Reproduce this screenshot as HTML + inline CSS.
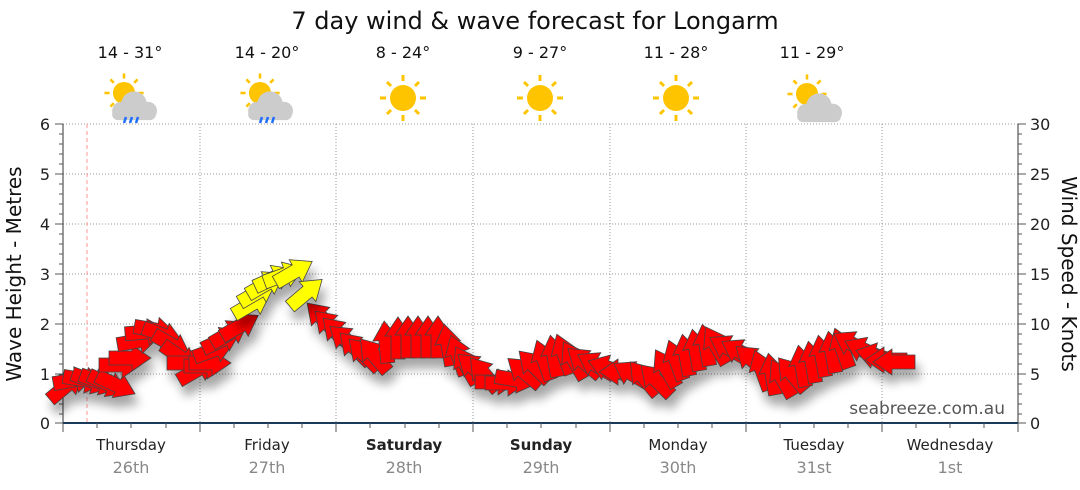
<!DOCTYPE html>
<html><head><meta charset="utf-8"><style>
html,body{margin:0;padding:0;background:#fff;}
svg{display:block;font-family:"DejaVu Sans","Liberation Sans",sans-serif;}
</style></head><body>
<svg width="1080" height="490" viewBox="0 0 1080 490">
<defs>
<path id="ar" d="M-21,-7 L2,-7 L2,-13 L21,0 L2,13 L2,7 L-21,7 Z" stroke="#444" stroke-width="0.8"/>
<filter id="sh" x="-20%" y="-20%" width="140%" height="160%"><feGaussianBlur in="SourceAlpha" stdDeviation="5"/><feOffset dx="4" dy="10"/><feComponentTransfer><feFuncA type="linear" slope="0.35"/></feComponentTransfer><feMerge><feMergeNode/><feMergeNode in="SourceGraphic"/></feMerge></filter>
<g id="sun"><circle r="13" fill="#ffc400"/><g stroke="#ffc400" stroke-width="3"><line x1="0" y1="-17" x2="0" y2="-23"/><line x1="0" y1="17" x2="0" y2="23"/><line x1="-17" y1="0" x2="-23" y2="0"/><line x1="17" y1="0" x2="23" y2="0"/><line x1="12" y1="12" x2="16" y2="16"/><line x1="-12" y1="12" x2="-16" y2="16"/><line x1="12" y1="-12" x2="16" y2="-16"/><line x1="-12" y1="-12" x2="-16" y2="-16"/></g></g>
<g id="cloud" fill="#ccc"><circle cx="0" cy="0" r="11"/><circle cx="-11" cy="6" r="8"/><circle cx="12" cy="6" r="8"/><rect x="-19" y="4" width="38" height="10" rx="5"/></g>
</defs>
<text x="535" y="29" font-size="24" text-anchor="middle" fill="#111">7 day wind &amp; wave forecast for Longarm</text>
<g font-size="16" text-anchor="middle" fill="#111">
<text x="130" y="58">14 - 31°</text><text x="267" y="58">14 - 20°</text><text x="403" y="58">8 - 24°</text><text x="540" y="58">9 - 27°</text><text x="676" y="58">11 - 28°</text><text x="812" y="58">11 - 29°</text>
</g>
<use href="#sun" transform="translate(124,93) scale(0.85)"/><use href="#cloud" transform="translate(134,104) scale(1.15)"/>
<g stroke="#1e6fff" stroke-width="2.5"><line x1="126" y1="117" x2="124" y2="123"/><line x1="132" y1="117" x2="130" y2="123"/><line x1="138" y1="117" x2="136" y2="123"/></g>
<use href="#sun" transform="translate(260,93) scale(0.85)"/><use href="#cloud" transform="translate(270,104) scale(1.15)"/>
<g stroke="#1e6fff" stroke-width="2.5"><line x1="262" y1="117" x2="260" y2="123"/><line x1="268" y1="117" x2="266" y2="123"/><line x1="274" y1="117" x2="272" y2="123"/></g>
<use href="#sun" transform="translate(403,98)"/><use href="#sun" transform="translate(540,98)"/><use href="#sun" transform="translate(676,98)"/>
<use href="#sun" transform="translate(807,94) scale(0.85)"/><use href="#cloud" transform="translate(819,106) scale(1.15)"/>
<!-- grid -->
<g stroke="#999" stroke-dasharray="1,2" stroke-width="1">
<line x1="63" y1="124" x2="1018" y2="124"/><line x1="63" y1="174" x2="1018" y2="174"/><line x1="63" y1="224" x2="1018" y2="224"/><line x1="63" y1="274" x2="1018" y2="274"/><line x1="63" y1="324" x2="1018" y2="324"/><line x1="63" y1="374" x2="1018" y2="374"/>
<line x1="200" y1="124" x2="200" y2="423"/><line x1="336" y1="124" x2="336" y2="423"/><line x1="473" y1="124" x2="473" y2="423"/><line x1="610" y1="124" x2="610" y2="423"/><line x1="746" y1="124" x2="746" y2="423"/><line x1="882" y1="124" x2="882" y2="423"/>
</g>
<line x1="87" y1="124" x2="87" y2="423" stroke="#f99" stroke-dasharray="4,3"/>
<g stroke="#333" stroke-width="1">
<line x1="63" y1="124" x2="63" y2="423"/><line x1="1018" y1="124" x2="1018" y2="423"/>
</g>
<line x1="63" y1="423" x2="1018" y2="423" stroke="#1a3a5a" stroke-width="2"/>
<g stroke="#555">
<path d="M55,124h8M55,174h8M55,224h8M55,274h8M55,324h8M55,374h8M55,423h8
M59,134h4M59,144h4M59,154h4M59,164h4M59,184h4M59,194h4M59,204h4M59,214h4M59,234h4M59,244h4M59,254h4M59,264h4M59,284h4M59,294h4M59,304h4M59,314h4M59,334h4M59,344h4M59,354h4M59,364h4M59,384h4M59,394h4M59,404h4M59,414h4
M1018,124h8M1018,174h8M1018,224h8M1018,274h8M1018,324h8M1018,374h8M1018,423h8
M1018,134h4M1018,144h4M1018,154h4M1018,164h4M1018,184h4M1018,194h4M1018,204h4M1018,214h4M1018,234h4M1018,244h4M1018,254h4M1018,264h4M1018,284h4M1018,294h4M1018,304h4M1018,314h4M1018,334h4M1018,344h4M1018,354h4M1018,364h4M1018,384h4M1018,394h4M1018,404h4M1018,414h4
M63,423v9M97,423v5M131,423v5M166,423v5M200,423v9M234,423v5M268,423v5M302,423v5M336,423v9M370,423v5M405,423v5M439,423v5M473,423v9M507,423v5M541,423v5M576,423v5M610,423v9M644,423v5M678,423v5M712,423v5M746,423v9M780,423v5M814,423v5M848,423v5M882,423v9M916,423v5M950,423v5M984,423v5M1018,423v9"/>
</g>
<g font-size="16" fill="#222" text-anchor="end">
<text x="50" y="130">6</text><text x="50" y="180">5</text><text x="50" y="230">4</text><text x="50" y="280">3</text><text x="50" y="330">2</text><text x="50" y="380">1</text><text x="50" y="429">0</text>
</g>
<g font-size="16" fill="#222">
<text x="1030" y="130">30</text><text x="1030" y="180">25</text><text x="1030" y="230">20</text><text x="1030" y="280">15</text><text x="1030" y="330">10</text><text x="1030" y="380">5</text><text x="1030" y="429">0</text>
</g>
<text transform="translate(21,274) rotate(-90)" font-size="20" text-anchor="middle" fill="#111">Wave Height - Metres</text>
<text transform="translate(1062,274) rotate(90)" font-size="20" text-anchor="middle" fill="#111">Wind Speed - Knots</text>
<text x="1005" y="414" font-size="17" text-anchor="end" fill="#555">seabreeze.com.au</text>
<g font-size="15" text-anchor="middle" fill="#222">
<text x="131" y="450">Thursday</text><text x="267" y="450">Friday</text><text x="404" y="450" font-weight="bold">Saturday</text><text x="541" y="450" font-weight="bold">Sunday</text><text x="678" y="450">Monday</text><text x="814" y="450">Tuesday</text><text x="950" y="450">Wednesday</text>
</g>
<g font-size="16" text-anchor="middle" fill="#888">
<text x="131" y="473">26th</text><text x="267" y="473">27th</text><text x="404" y="473">28th</text><text x="541" y="473">29th</text><text x="678" y="473">30th</text><text x="814" y="473">31st</text><text x="950" y="473">1st</text>
</g>
<g filter="url(#sh)" fill="#f00">
<use href="#ar" transform="translate(66,386) rotate(-40)"/>
<use href="#ar" transform="translate(74,380) rotate(-10)"/>
<use href="#ar" transform="translate(84,380) rotate(10)"/>
<use href="#ar" transform="translate(92,381) rotate(20)"/>
<use href="#ar" transform="translate(100,382) rotate(20)"/>
<use href="#ar" transform="translate(108,384) rotate(25)"/>
<use href="#ar" transform="translate(116,385) rotate(25)"/>
<use href="#ar" transform="translate(120,365) rotate(0)"/>
<use href="#ar" transform="translate(130,358) rotate(0)"/>
<use href="#ar" transform="translate(138,341) rotate(-10)"/>
<use href="#ar" transform="translate(146,332) rotate(-5)"/>
<use href="#ar" transform="translate(155,330) rotate(10)"/>
<use href="#ar" transform="translate(163,335) rotate(20)"/>
<use href="#ar" transform="translate(172,345) rotate(30)"/>
<use href="#ar" transform="translate(180,357) rotate(35)"/>
<use href="#ar" transform="translate(188,363) rotate(0)"/>
<use href="#ar" transform="translate(197,370) rotate(-30)"/>
<use href="#ar" transform="translate(205,366) rotate(0)"/>
<use href="#ar" transform="translate(210,363) rotate(0)"/>
<use href="#ar" transform="translate(214,350) rotate(-20)"/>
<use href="#ar" transform="translate(222,340) rotate(-25)"/>
<use href="#ar" transform="translate(230,333) rotate(-30)"/>
<use href="#ar" transform="translate(240,326) rotate(-30)"/>
<use href="#ar" transform="translate(322,318) rotate(-135)"/>
<use href="#ar" transform="translate(330,326) rotate(-135)"/>
<use href="#ar" transform="translate(338,333) rotate(-135)"/>
<use href="#ar" transform="translate(346,340) rotate(-140)"/>
<use href="#ar" transform="translate(355,348) rotate(-135)"/>
<use href="#ar" transform="translate(364,354) rotate(-135)"/>
<use href="#ar" transform="translate(374,355) rotate(-130)"/>
<use href="#ar" transform="translate(386,342) rotate(-95)"/>
<use href="#ar" transform="translate(398,338) rotate(-90)"/>
<use href="#ar" transform="translate(408,337) rotate(-90)"/>
<use href="#ar" transform="translate(418,337) rotate(-90)"/>
<use href="#ar" transform="translate(428,337) rotate(-90)"/>
<use href="#ar" transform="translate(438,337) rotate(-90)"/>
<use href="#ar" transform="translate(448,345) rotate(-100)"/>
<use href="#ar" transform="translate(458,355) rotate(-110)"/>
<use href="#ar" transform="translate(466,365) rotate(-120)"/>
<use href="#ar" transform="translate(474,368) rotate(-140)"/>
<use href="#ar" transform="translate(484,374) rotate(-130)"/>
<use href="#ar" transform="translate(496,382) rotate(0)"/>
<use href="#ar" transform="translate(506,383) rotate(0)"/>
<use href="#ar" transform="translate(516,380) rotate(10)"/>
<use href="#ar" transform="translate(524,372) rotate(-140)"/>
<use href="#ar" transform="translate(534,366) rotate(-135)"/>
<use href="#ar" transform="translate(544,360) rotate(-110)"/>
<use href="#ar" transform="translate(554,356) rotate(-100)"/>
<use href="#ar" transform="translate(564,354) rotate(-110)"/>
<use href="#ar" transform="translate(574,360) rotate(-120)"/>
<use href="#ar" transform="translate(584,362) rotate(-140)"/>
<use href="#ar" transform="translate(596,365) rotate(-150)"/>
<use href="#ar" transform="translate(608,368) rotate(-160)"/>
<use href="#ar" transform="translate(620,372) rotate(180)"/>
<use href="#ar" transform="translate(632,374) rotate(-150)"/>
<use href="#ar" transform="translate(644,378) rotate(-130)"/>
<use href="#ar" transform="translate(656,380) rotate(-135)"/>
<use href="#ar" transform="translate(666,368) rotate(-120)"/>
<use href="#ar" transform="translate(676,360) rotate(-110)"/>
<use href="#ar" transform="translate(686,355) rotate(-100)"/>
<use href="#ar" transform="translate(696,350) rotate(-100)"/>
<use href="#ar" transform="translate(706,345) rotate(-100)"/>
<use href="#ar" transform="translate(716,345) rotate(-120)"/>
<use href="#ar" transform="translate(728,348) rotate(-150)"/>
<use href="#ar" transform="translate(740,352) rotate(-150)"/>
<use href="#ar" transform="translate(752,360) rotate(-140)"/>
<use href="#ar" transform="translate(762,370) rotate(-110)"/>
<use href="#ar" transform="translate(772,374) rotate(-100)"/>
<use href="#ar" transform="translate(782,378) rotate(-120)"/>
<use href="#ar" transform="translate(792,374) rotate(-130)"/>
<use href="#ar" transform="translate(802,366) rotate(-100)"/>
<use href="#ar" transform="translate(812,362) rotate(-100)"/>
<use href="#ar" transform="translate(822,356) rotate(-100)"/>
<use href="#ar" transform="translate(832,352) rotate(-100)"/>
<use href="#ar" transform="translate(842,348) rotate(-110)"/>
<use href="#ar" transform="translate(852,344) rotate(-150)"/>
<use href="#ar" transform="translate(864,350) rotate(-155)"/>
<use href="#ar" transform="translate(876,356) rotate(-165)"/>
<use href="#ar" transform="translate(886,360) rotate(180)"/>
<use href="#ar" transform="translate(894,362) rotate(180)"/>
</g>
<g filter="url(#sh)" fill="#ff0">
<use href="#ar" transform="translate(252,304) rotate(-30)"/>
<use href="#ar" transform="translate(258,292) rotate(-30)"/>
<use href="#ar" transform="translate(266,284) rotate(-30)"/>
<use href="#ar" transform="translate(274,278) rotate(-25)"/>
<use href="#ar" transform="translate(284,275) rotate(-20)"/>
<use href="#ar" transform="translate(294,272) rotate(-30)"/>
<use href="#ar" transform="translate(306,293) rotate(-40)"/>
</g>
</svg>
</body></html>
